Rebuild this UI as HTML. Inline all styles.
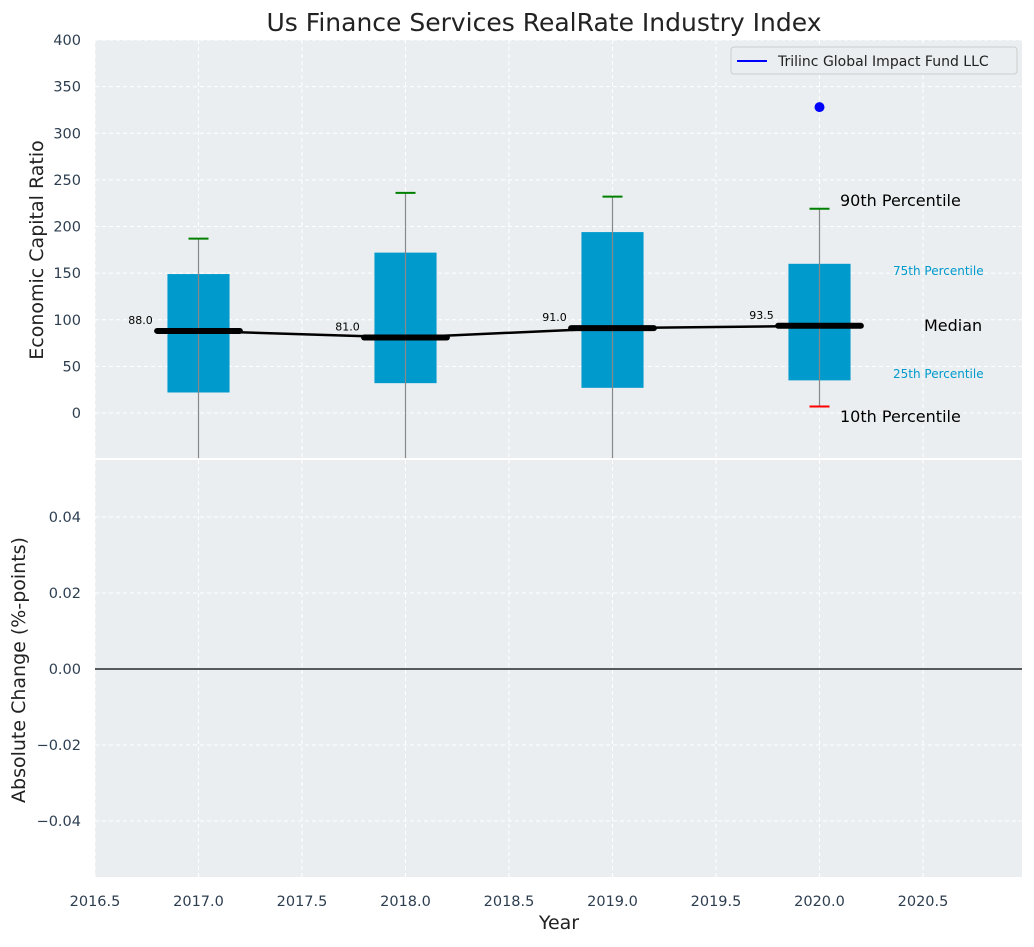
<!DOCTYPE html>
<html><head><meta charset="utf-8"><style>
body{margin:0;background:#fff;font-family:"Liberation Sans","DejaVu Sans",sans-serif;}
</style></head><body>
<svg id="c" width="1034" height="942" xmlns="http://www.w3.org/2000/svg" font-family="DejaVu Sans, Liberation Sans, sans-serif"></svg>
<script>
const years=[2017,2018,2019,2020];
const p10=[-60,-60,-60,7];
const p25=[22,32,27,35];
const medians=[88,81,91,93.5];
const p75=[149,172,194,160];
const p90=[187,236,232,219];
const fundYears=[2020];
const fundValues=[328];
const xTicks=[2016.5,2017,2017.5,2018,2018.5,2019,2019.5,2020,2020.5];
const yTopTicks=[0,50,100,150,200,250,300,350,400];
const yBotTicks=[-0.04,-0.02,0,0.02,0.04];

const NS='http://www.w3.org/2000/svg';
const svg=document.getElementById('c');
function el(t,a,txt){const e=document.createElementNS(NS,t);for(const k in a)e.setAttribute(k,a[k]);if(txt!==undefined)e.textContent=txt;svg.appendChild(e);return e;}
const L=95,R=1022,T1=40,B1=458,T2=460,B2=877;
const X=v=>L+(v-2016.5)*207;
const Y1=v=>413-v*0.9325;
const Y2=v=>669-v*3800;

let r=el('rect',{x:L,y:T1,width:R-L,height:B1-T1,fill:'#eaeef0'});

r=el('rect',{x:L,y:T2,width:R-L,height:B2-T2,fill:'#eaeef0'});


xTicks.forEach(t=>{
  [[T1,B1],[T2,B2]].forEach(([a,b])=>{let g=el('line',{x1:X(t),x2:X(t),y1:a,y2:b,stroke:'#fff','stroke-dasharray':'4,3'});});
  let tx=el('text',{x:X(t),y:906,'text-anchor':'middle','font-size':14.5,fill:'#2d3e50'},t.toFixed(1));
  
});
yTopTicks.forEach(t=>{
  let g=el('line',{x1:L,x2:R,y1:Y1(t),y2:Y1(t),stroke:'#fff','stroke-dasharray':'4,3'});
  let tx=el('text',{x:81,y:Y1(t)+5,'text-anchor':'end','font-size':14.5,fill:'#2d3e50'},t);
  
});
yBotTicks.forEach(t=>{
  let g=el('line',{x1:L,x2:R,y1:Y2(t),y2:Y2(t),stroke:'#fff','stroke-dasharray':'4,3'});
  let tx=el('text',{x:81,y:Y2(t)+5,'text-anchor':'end','font-size':14.5,fill:'#2d3e50'},(t<0?'\u2212':'')+Math.abs(t).toFixed(2));
  
});
let z=el('line',{x1:L,x2:R,y1:Y2(0),y2:Y2(0),stroke:'#000','stroke-width':1.3});


const clip=v=>Math.min(B1,Math.max(T1,v));
years.forEach((yr,i)=>{
  const cx=X(yr);
  let b=el('rect',{x:X(yr-0.15),y:Y1(p75[i]),width:X(yr+0.15)-X(yr-0.15),height:Y1(p25[i])-Y1(p75[i]),fill:'#009ACD'});
  
  let w=el('line',{x1:cx,x2:cx,y1:Y1(p90[i]),y2:clip(Y1(p10[i])),stroke:'#888','stroke-width':1.2});
  
  let c=el('line',{x1:cx-10,x2:cx+10,y1:Y1(p90[i]),y2:Y1(p90[i]),stroke:'green','stroke-width':2});
  
  if(Y1(p10[i])<B1){let c2=el('line',{x1:cx-10,x2:cx+10,y1:Y1(p10[i]),y2:Y1(p10[i]),stroke:'red','stroke-width':2});
  }
  let m=el('line',{x1:X(yr-0.2),x2:X(yr+0.2),y1:Y1(medians[i]),y2:Y1(medians[i]),stroke:'#000','stroke-width':6,'stroke-linecap':'round'});
  
  let t=el('text',{x:X(yr-0.28),y:Y1(medians[i])-7,'text-anchor':'middle','font-size':11,fill:'#000'},medians[i].toFixed(1));
  
});
let pl=el('polyline',{points:years.map((y,i)=>X(y)+','+Y1(medians[i])).join(' '),fill:'none',stroke:'#000','stroke-width':2.5});

fundYears.forEach((y,i)=>{let d=el('circle',{cx:X(y),cy:Y1(fundValues[i]),r:5,fill:'blue'});});

const ann=[['90th Percentile',840,206,16,'#000','start'],['75th Percentile',893,275,12,'#009ACD','start'],['Median',924,331,16,'#000','start'],['25th Percentile',893,378,12,'#009ACD','start'],['10th Percentile',840,422,16,'#000','start']];
ann.forEach(a=>{let t=el('text',{x:a[1],y:a[2],'font-size':a[3],fill:a[4]},a[0]);});

let lg=el('rect',{x:731,y:47,width:286,height:27,fill:'#eaeef0',stroke:'#ccc',rx:3});

let ll=el('line',{x1:737,x2:767,y1:61,y2:61,stroke:'blue','stroke-width':2});

let lt=el('text',{x:778,y:66,'font-size':14,fill:'#222'},'Trilinc Global Impact Fund LLC');


let ti=el('text',{x:544,y:31,'text-anchor':'middle','font-size':25,fill:'#222'},'Us Finance Services RealRate Industry Index');

let xl=el('text',{x:559,y:929,'text-anchor':'middle','font-size':19,fill:'#222'},'Year');

let y1=el('text',{x:0,y:0,'text-anchor':'middle','font-size':19,fill:'#222',transform:'translate(43,250) rotate(-90)'},'Economic Capital Ratio');

let y2=el('text',{x:0,y:0,'text-anchor':'middle','font-size':19,fill:'#222',transform:'translate(25,670) rotate(-90)'},'Absolute Change (%-points)');

</script>
</body></html>
